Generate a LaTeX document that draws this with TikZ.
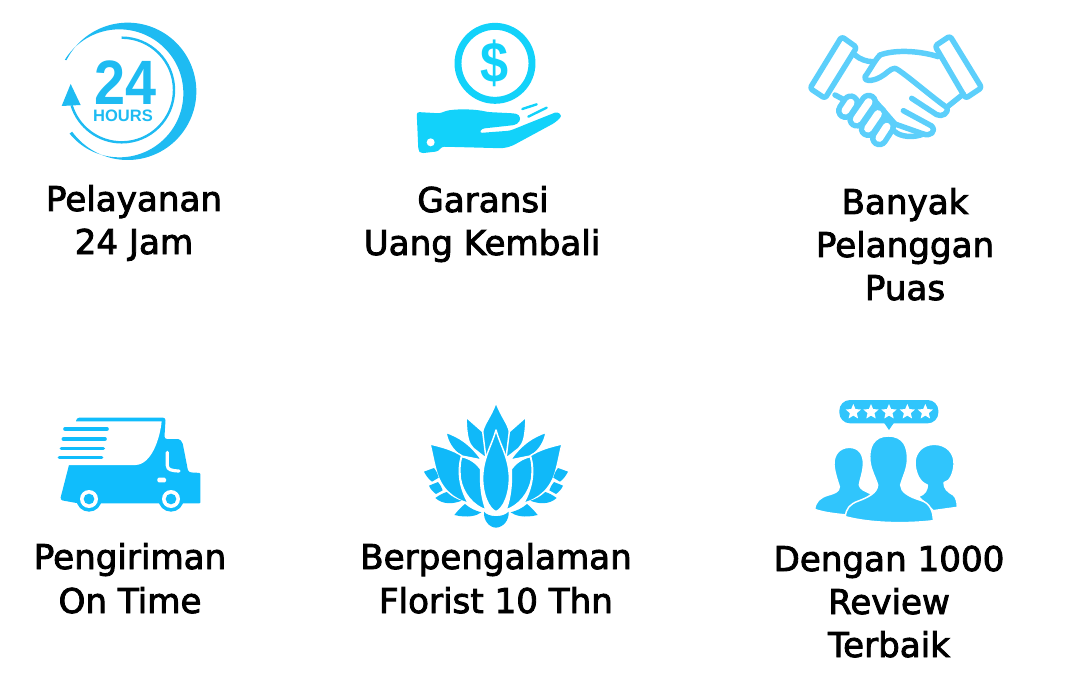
\documentclass[tikz,border=0pt]{standalone}
\usepackage{fontspec}
\setmainfont[FakeBold=2.5]{DejaVu Sans}
\newfontfamily\arialf{Liberation Sans}
\usetikzlibrary{shapes.geometric,calc}
\definecolor{clockc}{HTML}{1EBBF2}
\definecolor{handc}{HTML}{12D2FA}
\definecolor{shakec}{HTML}{5CCFFB}
\definecolor{truckc}{HTML}{10BDFC}
\definecolor{lotusc}{HTML}{10B9F9}
\definecolor{peoplec}{HTML}{30C5FC}
\tikzset{
  label text/.style={font=\fontsize{25.6}{30}\selectfont, text=black, inner sep=0pt, anchor=base},
  zoomed/.style={x=0.25pt,y=-0.25pt},
  shakeline/.style={draw=shakec,line width=4.1pt,line cap=round,line join=round,fill=none},
  capsule/.style={draw=shakec,line width=4.1pt,double=white,double distance=5.8pt,line cap=round},
  petal/.style={fill=lotusc,draw=white,line width=1.1pt,line join=round},
  leaf/.style={fill=lotusc,draw=none},
  person/.style={fill=peoplec,draw=white,line width=1.1pt,line join=round},
}
\newcommand{\lotushalf}{%
  \path[petal] (168,66) -- (218,110) -- (228,190) -- (190,160) .. controls (176,145) and (170,130) .. cycle;
  \path[petal] (108,112) .. controls (145,125) and (180,145) .. (215,195) -- (150,182) .. controls (130,165) and (113,145) .. cycle;
  \path[petal] (60,147) .. controls (95,155) and (130,165) .. (155,182) .. controls (140,230) and (150,280) .. (175,325) .. controls (130,312) and (92,282) .. (78,225) .. controls (70,195) and (66,170) .. cycle;
  \path[petal] (155,185) .. controls (180,190) and (200,205) .. (212,222) .. controls (210,270) and (215,310) .. (228,345) .. controls (190,332) and (158,295) .. (151,250) .. controls (149,225) and (149,205) .. cycle;
  \path[leaf] (42,230) -- (72,219) .. controls (80,230) and (84,238) .. (86,248) -- (66,260) .. controls (55,252) and (47,240) .. cycle;
  \path[leaf] (57,272) -- (84,261) .. controls (91,270) and (96,278) .. (98,286) -- (78,297) .. controls (69,291) and (61,282) .. cycle;
  \path[leaf] (76,309) .. controls (88,300) and (100,294) .. (110,291) .. controls (125,305) and (140,313) .. (155,317) .. controls (130,327) and (100,330) .. cycle;
  \path[leaf] (133,360) .. controls (145,345) and (155,335) .. (165,327) .. controls (180,340) and (195,347) .. (214,352) .. controls (200,362) and (175,370) .. cycle;
}
\begin{document}
\begin{tikzpicture}[x=0.75pt,y=-0.75pt]
\useasboundingbox (0,0) rectangle (1075,681);

% ---- clock
\begin{scope}[shift={(40,10)},zoomed]
  \fill[clockc] (263,244) ++(207:206) arc[start angle=207,end angle=504,radius=206]
    -- (88.8,370.8) arc[start angle=141,end angle=-148.5,radius=192] -- cycle;
  \draw[clockc,line width=1.8pt] (245,240) ++(270:157) arc[start angle=270,end angle=523,radius=157];
  \fill[clockc] (92,222) -- (65,288) -- (122,285) -- cycle;
  \node[inner sep=0pt,text=clockc,font=\arialf\bfseries\fontsize{47}{47}\selectfont,xscale=0.89] (n24) at (258,217) {24};
  \node[inner sep=0pt,text=clockc,font=\arialf\bfseries\fontsize{12.4}{12}\selectfont] (hours) at (249,318) {HOURS};
\end{scope}

% ---- hand and coin
\begin{scope}[shift={(400,10)},zoomed,handc]
  \draw[line width=5.2pt] (285,160) circle[radius=111];
  \node[inner sep=0pt,text=handc,font=\arialf\bfseries\fontsize{43}{43}\selectfont,xscale=0.88] (dollar) at (285,160) {\$};
  \fill[rounded corners=2pt] (50,306) -- (120,310) -- (140,302) .. controls (180,296) and (230,298) .. (262,306) -- (340,310) .. controls (362,314) and (365,332) .. (345,345) -- (245,356) -- (238,369) -- (330,362) -- (472,305) -- (486,318) -- (465,338) -- (345,403) .. controls (320,415) and (300,415) .. (280,414) -- (125,410) -- (115,424) -- (62,430) -- (55,420) -- cycle;
  \fill[white] (92,397) circle[radius=12];
  \draw[line width=1.8pt,line cap=round] (367,297) -- (410,283);
  \draw[line width=1.8pt,line cap=round] (385,320) -- (440,293);
\end{scope}

% ---- handshake
\begin{scope}[shift={(800,20)},zoomed]
  \draw[shakeline,rounded corners=2pt] (125,50) -- (170,82) -- (75,235) -- (30,205) -- cycle;
  \draw[shakeline,rounded corners=2pt] (450,48) -- (405,78) -- (497,235) -- (545,203) -- cycle;
  \draw[shakeline] (165,105) .. controls (180,118) and (200,125) .. (218,125);
  \draw[shakeline] (240,105) .. controls (280,90) and (350,90) .. (415,110);
  \draw[shakeline] (240,105) .. controls (225,120) and (210,150) .. (195,170) .. controls (190,185) and (215,185) .. (240,172) .. controls (260,162) and (270,145) .. (285,145) .. controls (300,148) and (400,235) .. (440,262) .. controls (448,280) and (425,292) .. (410,284) -- (335,235);
  \draw[shakeline] (490,222) -- (440,262);
  \draw[shakeline] (105,225) -- (130,238);
  \draw[shakeline] (310,272) -- (395,318) .. controls (410,335) and (390,350) .. (370,342) -- (285,312);
  \draw[shakeline] (285,335) .. controls (300,350) and (340,355) .. (370,342);
  \draw[shakeline] (225,243) -- (285,312);
  \draw[capsule] (152,248) -- (136,272);
  \draw[capsule] (206,246) -- (170,298);
  \draw[capsule] (234,282) -- (204,326);
  \draw[capsule] (260,320) -- (238,354);
\end{scope}

% ---- truck
\begin{scope}[shift={(45,405)},zoomed,truckc]
  \fill[rounded corners=2pt] (95,38) -- (362,38) -- (358,102) -- (392,102) .. controls (405,102) and (412,110) .. (415,125) -- (430,202) -- (455,203) .. controls (463,204) and (466,208) .. (466,215) -- (466,285) .. controls (466,292) and (462,295) .. (455,295) -- (100,295) -- (45,285) -- (72,180) -- cycle;
  \fill[white] (82,49) -- (350,49) .. controls (345,100) and (320,178) .. (272,180) -- (66,180) -- cycle;
  \draw[line width=2.7pt,line cap=round] (60,72) -- (186,72);
  \draw[line width=2.7pt,line cap=round] (55,102) -- (180,102);
  \draw[line width=2.7pt,line cap=round] (49,130) -- (175,130);
  \draw[line width=2.7pt,line cap=round] (43,157) -- (170,157);
  \draw[white,line width=2.4pt,line cap=round] (367,142) -- (367,182) .. controls (368,194) and (378,197) .. (402,198);
  \fill[white,rounded corners=1pt] (337,218) rectangle (363,232);
  \fill (132,282) circle[radius=38];
  \fill[white] (132,282) circle[radius=27];
  \fill (132,282) circle[radius=16];
  \fill (378,282) circle[radius=38];
  \fill[white] (378,282) circle[radius=27];
  \fill (378,282) circle[radius=16];
\end{scope}

% ---- lotus
\begin{scope}[shift={(410,395)},zoomed]
  \path[petal] (258,22) .. controls (275,70) and (300,90) .. (300,125) .. controls (300,150) and (290,170) .. (285,195) -- (231,195) .. controls (226,170) and (216,150) .. (216,125) .. controls (216,90) and (242,70) .. cycle;
  \lotushalf
  \begin{scope}[shift={(516,0)},xscale=-1]
    \lotushalf
  \end{scope}
  \path[petal] (258,105) .. controls (270,150) and (298,190) .. (298,250) .. controls (298,300) and (280,340) .. (258,350) .. controls (236,340) and (218,300) .. (218,250) .. controls (218,190) and (246,150) .. cycle;
  \path[leaf] (222,350) .. controls (235,368) and (280,368) .. (296,350) .. controls (298,375) and (280,397) .. (258,398) .. controls (236,397) and (220,375) .. cycle;
\end{scope}

% ---- people
\begin{scope}[shift={(800,390)},zoomed]
  \fill[peoplec,rounded corners=8pt] (118,30) rectangle (415,100);
  \fill[peoplec] (252,98) -- (267,120) -- (282,98) -- cycle;
  \foreach \sx [count=\si] in {160,213,267,322,376}
    \node[star,star points=5,star point ratio=2.2,fill=white,inner sep=0pt,minimum size=12pt] (star\si) at (\sx,66) {};
  \path[person] (148,172) .. controls (178,172) and (192,195) .. (190,225) .. controls (189,250) and (180,268) .. (178,285) .. controls (180,298) and (195,303) .. (215,312) -- (140,375) .. controls (110,372) and (70,368) .. (44,358) .. controls (46,335) and (60,322) .. (85,315) .. controls (103,310) and (118,305) .. (118,290) .. controls (112,270) and (104,250) .. (102,225) .. controls (100,195) and (118,172) .. cycle;
  \path[person] (403,163) .. controls (440,163) and (465,190) .. (462,225) .. controls (460,250) and (450,275) .. (432,278) .. controls (432,295) and (442,305) .. (460,315) .. controls (468,322) and (472,335) .. (472,352) -- (400,362) -- (355,320) .. controls (375,312) and (382,300) .. (382,285) .. controls (360,278) and (345,250) .. (345,215) .. controls (347,185) and (370,163) .. cycle;
  \path[person] (265,138) .. controls (310,138) and (325,170) .. (322,215) .. controls (320,240) and (308,262) .. (302,285) .. controls (302,305) and (325,320) .. (365,332) .. controls (390,340) and (400,365) .. (400,392) .. controls (320,402) and (210,400) .. (136,380) .. controls (138,355) and (150,342) .. (175,333) .. controls (205,322) and (232,308) .. (233,285) .. controls (226,262) and (213,240) .. (210,215) .. controls (205,170) and (222,138) .. cycle;
\end{scope}

% ---- labels
\node[label text] (t1a) at (134,211) {Pelayanan};
\node[label text] (t1b) at (134,254) {24 Jam};
\node[label text] (t2a) at (483,212) {Garansi};
\node[label text] (t2b) at (482,255) {Uang Kembali};
\node[label text] (t3a) at (905,214) {Banyak};
\node[label text] (t3b) at (905,257) {Pelanggan};
\node[label text] (t3c) at (905,300) {Puas};
\node[label text] (t4a) at (130,569) {Pengiriman};
\node[label text] (t4b) at (130,613) {On Time};
\node[label text] (t5a) at (496,569) {Berpengalaman};
\node[label text] (t5b) at (496,613) {Florist 10 Thn};
\node[label text] (t6a) at (889,571) {Dengan 1000};
\node[label text] (t6b) at (889,614) {Review};
\node[label text] (t6c) at (889,657) {Terbaik};
\end{tikzpicture}
\end{document}
